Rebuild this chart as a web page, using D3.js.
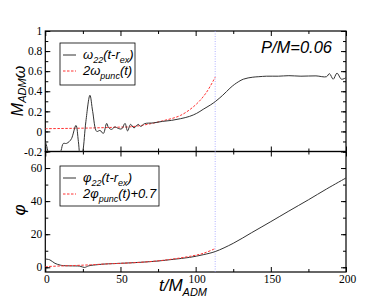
<!DOCTYPE html>
<meta charset="utf-8">
<script src="https://cdn.jsdelivr.net/npm/d3@7"></script>
<style>
body { margin: 0; background: #fff; }
.tick text { font-family: "Liberation Serif", "DejaVu Serif", serif; font-size: 11.5px; fill: #000; }
.lab { font-family: "Liberation Sans", Arial, sans-serif; font-style: italic; fill: #000; }
</style>
<body>
<script>

// ---- data ----
var omegaT   = [0, 1, 2.5, 5, 8, 10.5, 12, 14, 16, 17.5, 20.4, 22, 23.5, 25, 27, 29.7, 31.5, 34.2, 36.4, 38.6, 40.8, 42, 44, 46.3, 48.5, 50.8, 53, 54.7, 56.7, 59, 61.8, 63.5, 66, 72, 78, 84, 90, 96, 100.7, 105, 110, 113.3, 118, 122.8, 126, 131.7, 138, 142, 147, 155, 162, 170, 180, 187, 189, 191.5, 194, 197, 200];
var omegaVal = [-0.10, -0.15, -0.25, -0.35, -0.30, -0.19, -0.12, -0.12, -0.10, -0.07, 0.06, -0.10, -0.30, -0.20, 0.10, 0.36, 0.20, 0.0, 0.01, -0.02, 0.08, 0.04, 0.02, 0.045, 0.03, 0.025, 0.08, 0.005, 0.07, 0.035, 0.07, 0.05, 0.077, 0.085, 0.10, 0.11, 0.127, 0.15, 0.18, 0.22, 0.265, 0.30, 0.36, 0.43, 0.47, 0.52, 0.54, 0.545, 0.55, 0.55, 0.555, 0.55, 0.553, 0.545, 0.575, 0.52, 0.58, 0.52, 0.535];

var punc2T   = [0, 10, 20, 30, 40, 50, 56, 66, 78, 90, 100, 107, 113];
var punc2Val = [0.027, 0.029, 0.031, 0.034, 0.038, 0.043, 0.045, 0.065, 0.105, 0.16, 0.265, 0.385, 0.54];

var phiT   = [0, 3, 6.4, 10, 12, 20, 23, 26, 29, 35, 40, 50, 63, 75, 85, 96, 105, 113, 125, 137, 150, 162, 175, 187, 200];
var phiVal = [5.0, 4.5, 2.4, 1.3, 1.0, 0.8, 0.7, -0.1, 0.9, 1.6, 2.0, 2.4, 3.0, 3.8, 4.8, 6.0, 7.6, 9.5, 14.5, 20.8, 27.6, 34.0, 40.8, 47.3, 54.0];

var phiPT   = [0, 10, 20, 30, 40, 50, 63, 75, 85, 96, 105, 113];
var phiPVal = [0.4, 0.8, 1.1, 1.5, 2.0, 2.4, 3.0, 3.9, 5.0, 6.6, 8.4, 11.3];

var tMerge = 113;

var xTicks = [0, 50, 100, 150, 200];
var topTicks = [-0.2, 0, 0.2, 0.4, 0.6, 0.8, 1];
var botTicks = [0, 20, 40, 60];

// ---- layout ----
var width = 392, height = 303;
var left = 45.3, right = 346, top1 = 31, mid = 151.5, bot = 272;

var svg = d3.select("body").append("svg")
    .attr("width", width)
    .attr("height", height);

var x = d3.scaleLinear().domain([0, 200]).range([left, right]);
var yTop = d3.scaleLinear().domain([-0.2, 1]).range([mid, top1]);
var yBot = d3.scaleLinear().domain([-2.85, 70]).range([bot, mid]);

var defs = svg.append("defs");
defs.append("clipPath").attr("id", "clipTop").append("rect")
    .attr("x", left).attr("y", top1).attr("width", right - left).attr("height", mid - top1);
defs.append("clipPath").attr("id", "clipBot").append("rect")
    .attr("x", left).attr("y", mid).attr("width", right - left).attr("height", bot - mid);

function zip(a, b) { return a.map(function(v, i) { return [v, b[i]]; }); }

function noDomain(g) { g.select(".domain").remove(); }

function drawAxes(y, yMajor, yMinorStep, yFmt, showX) {
  var d = y.domain();
  var r = y.range();
  var minors = d3.range(Math.ceil(d[0] / yMinorStep) * yMinorStep, d[1] + 1e-9, yMinorStep);
  // left / right
  svg.append("g").attr("transform", "translate(" + left + ",0)")
      .call(d3.axisLeft(y).tickValues(yMajor).tickSizeInner(-5).tickSizeOuter(0).tickPadding(3).tickFormat(yFmt))
      .call(noDomain);
  svg.append("g").attr("transform", "translate(" + left + ",0)")
      .call(d3.axisLeft(y).tickValues(minors).tickSizeInner(-3).tickSizeOuter(0).tickFormat(""))
      .call(noDomain);
  svg.append("g").attr("transform", "translate(" + right + ",0)")
      .call(d3.axisRight(y).tickValues(yMajor).tickSizeInner(-5).tickSizeOuter(0).tickFormat(""))
      .call(noDomain);
  svg.append("g").attr("transform", "translate(" + right + ",0)")
      .call(d3.axisRight(y).tickValues(minors).tickSizeInner(-3).tickSizeOuter(0).tickFormat(""))
      .call(noDomain);
  // bottom / top
  [r[0], r[1]].forEach(function(yy, i) {
    var ax = i === 0 ? d3.axisBottom(x) : d3.axisTop(x);
    var g = svg.append("g").attr("transform", "translate(0," + yy + ")")
        .call(ax.tickValues(xTicks).tickSizeInner(-5).tickSizeOuter(0).tickPadding(3)
            .tickFormat(i === 0 && showX ? d3.format("d") : ""))
        .call(noDomain);
    g.selectAll(".tick text").attr("dx", 1);
    svg.append("g").attr("transform", "translate(0," + yy + ")")
        .call((i === 0 ? d3.axisBottom(x) : d3.axisTop(x)).tickValues([25, 75, 125, 175]).tickSizeInner(-3).tickSizeOuter(0).tickFormat(""))
        .call(noDomain);
  });
  svg.append("rect")
      .attr("x", left).attr("y", r[1]).attr("width", right - left).attr("height", r[0] - r[1])
      .attr("fill", "none").attr("stroke", "#000").attr("stroke-width", 1.2);
}

drawAxes(yTop, topTicks, 0.1, function(v) { return v === 0 ? "0" : String(+v.toFixed(1)); }, false);
drawAxes(yBot, botTicks, 10, d3.format("d"), true);

// vertical dotted line
svg.append("line")
    .attr("x1", x(tMerge)).attr("x2", x(tMerge))
    .attr("y1", top1).attr("y2", bot)
    .attr("stroke", "#8f8fff").attr("stroke-width", 0.7).attr("stroke-dasharray", "1,1.5");

var lineTop = d3.line().x(function(d) { return x(d[0]); }).y(function(d) { return yTop(d[1]); }).curve(d3.curveCatmullRom.alpha(0.5));
var lineBot = d3.line().x(function(d) { return x(d[0]); }).y(function(d) { return yBot(d[1]); }).curve(d3.curveCatmullRom.alpha(0.5));

var gTop = svg.append("g").attr("clip-path", "url(#clipTop)");
gTop.append("path").datum(zip(punc2T, punc2Val)).attr("d", lineTop)
    .attr("fill", "none").attr("stroke", "#ff3030").attr("stroke-width", 1).attr("stroke-dasharray", "2.5,1.5");
gTop.append("path").datum(zip(omegaT, omegaVal)).attr("d", lineTop)
    .attr("fill", "none").attr("stroke", "#333").attr("stroke-width", 1);

var gBot = svg.append("g").attr("clip-path", "url(#clipBot)");
gBot.append("path").datum(zip(phiT, phiVal)).attr("d", lineBot)
    .attr("fill", "none").attr("stroke", "#333").attr("stroke-width", 1);
gBot.append("path").datum(zip(phiPT, phiPVal)).attr("d", lineBot)
    .attr("fill", "none").attr("stroke", "#ff3030").attr("stroke-width", 1).attr("stroke-dasharray", "2.5,1.5");

// legends
function legend(x0, y0, w, h, rows) {
  var g = svg.append("g");
  g.append("rect").attr("x", x0).attr("y", y0).attr("width", w).attr("height", h)
      .attr("fill", "#fff").attr("stroke", "#000").attr("stroke-width", 0.8);
  rows.forEach(function(r, i) {
    var yy = y0 + 12 + i * 16;
    g.append("line").attr("x1", x0 + 3).attr("x2", x0 + 16).attr("y1", yy).attr("y2", yy)
        .attr("stroke", r.color).attr("stroke-width", 1).attr("stroke-dasharray", r.dash);
    var t = g.append("text").attr("class", "lab").attr("x", x0 + 23).attr("y", yy + 4).style("font-size", "13px");
    r.parts.forEach(function(p) {
      var ts = t.append("tspan").text(p[0]);
      if (p[1] === "sub") ts.attr("dy", 4).style("font-size", "9px");
      if (p[1] === "up") ts.attr("dy", -4);
    });
  });
}

legend(60, 43, 75, 42, [
  {color: "#333", dash: null, parts: [["ω"], ["22", "sub"], ["(t-r", "up"], ["ex", "sub"], [")", "up"]]},
  {color: "#ff3030", dash: "2.5,1.5", parts: [["2ω"], ["punc", "sub"], ["(t)", "up"]]}
]);
legend(60, 166, 99, 40, [
  {color: "#333", dash: null, parts: [["φ"], ["22", "sub"], ["(t-r", "up"], ["ex", "sub"], [")", "up"]]},
  {color: "#ff3030", dash: "2.5,1.5", parts: [["2φ"], ["punc", "sub"], ["(t)+0.7", "up"]]}
]);

// annotation
svg.append("text").attr("class", "lab").attr("x", 332).attr("y", 53)
    .attr("text-anchor", "end").style("font-size", "16.5px").text("P/M=0.06");

// axis titles
var yl = svg.append("text").attr("class", "lab")
    .attr("transform", "translate(23,91) rotate(-90)")
    .attr("text-anchor", "middle").style("font-size", "16px");
yl.append("tspan").text("M");
yl.append("tspan").text("ADM").attr("dy", 3).style("font-size", "11px");
yl.append("tspan").text("ω").attr("dy", -1);

svg.append("text").attr("class", "lab")
    .attr("transform", "translate(25,210) rotate(-90)")
    .attr("text-anchor", "middle").style("font-size", "17px").text("φ");

var xl = svg.append("text").attr("class", "lab")
    .attr("x", 183).attr("y", 291)
    .attr("text-anchor", "middle").style("font-size", "17px");
xl.append("tspan").text("t/M");
xl.append("tspan").text("ADM").attr("dy", 5).style("font-size", "11px");

</script>
</body>
